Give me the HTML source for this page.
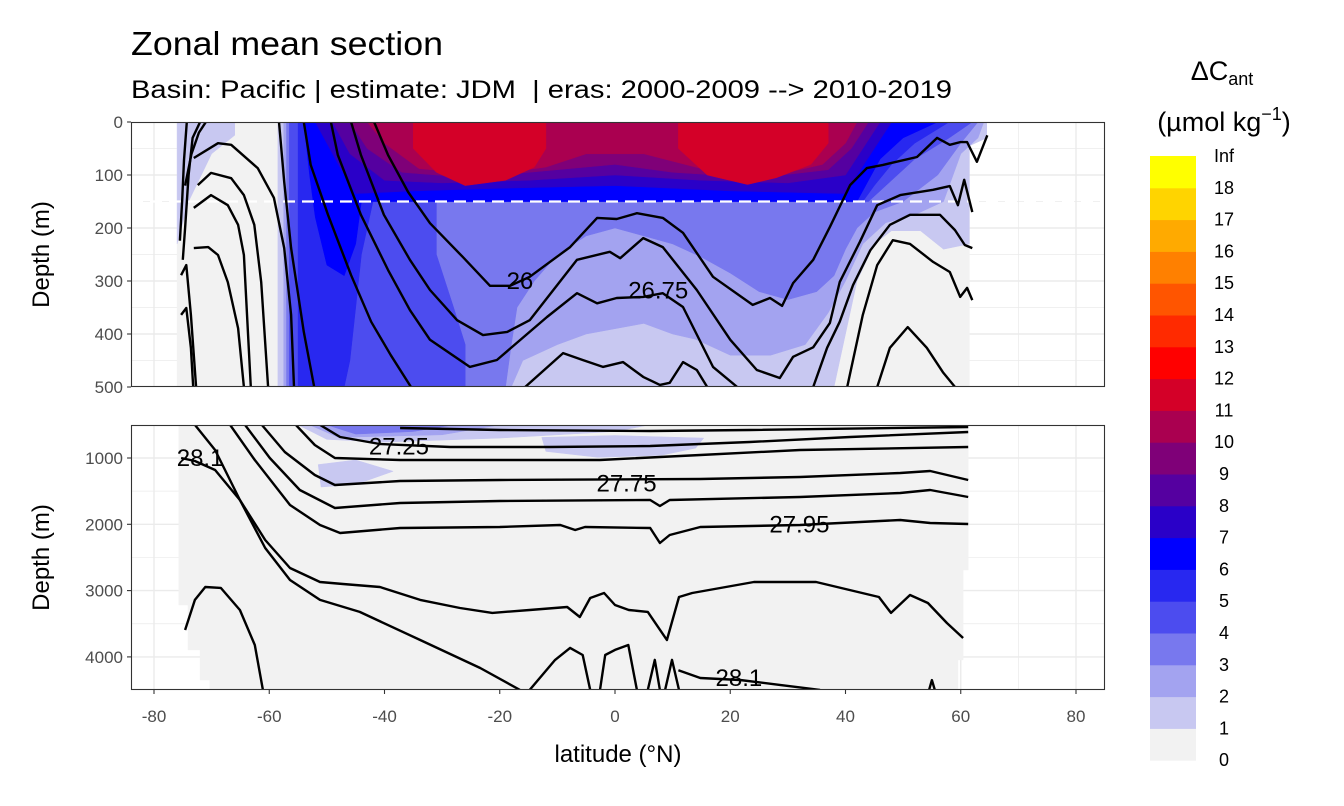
<!DOCTYPE html>
<html><head><meta charset="utf-8">
<style>
html,body{margin:0;padding:0;background:#fff;}
svg{display:block;font-family:"Liberation Sans",Arial,sans-serif;}
</style></head>
<body>
<svg id="chart" width="1344" height="806" viewBox="0 0 1344 806" xmlns="http://www.w3.org/2000/svg">
<text x="131" y="55" font-size="33" textLength="312" lengthAdjust="spacingAndGlyphs" fill="#000">Zonal mean section</text>
<text x="131" y="98" font-size="25" textLength="821" lengthAdjust="spacingAndGlyphs" fill="#000" xml:space="preserve">Basin: Pacific | estimate: JDM  | eras: 2000-2009 --&gt; 2010-2019</text>
<g id="topPanel"></g>
<g id="botPanel"></g>
<g id="axes"></g>
<g id="legend"></g>
</svg>
<script>
// ---------- data ----------
const palette = ["#f2f2f2","#c8c8f1","#a3a3f0","#7878ee","#4c4cef","#2828f0","#0000ff","#2a00c8","#5500a0","#7f0078","#aa0050","#d40028","#ff0000","#ff2a00","#ff5500","#ff8000","#ffaa00","#ffd400","#ffff00"];
const legendLabels = ["0","1","2","3","4","5","6","7","8","9","10","11","12","13","14","15","16","17","18","Inf"];
const xTicks = [-80,-60,-40,-20,0,20,40,60,80];
const topYTicks = [0,100,200,300,400,500];
const botYTicks = [1000,2000,3000,4000];

// filled regions (level index, [lat, depth] vertices)
const topFills = [
 [0, [[-76,0],[64.5,0],[64.5,30],[61.5,45],[61.5,500],[-76,500]]],
 [1, [[-76,0],[-66,0],[-66,25],[-70,60],[-74,150],[-76,230]]],
 [1, [[-58.5,0],[64.5,0],[64.5,30],[61.5,45],[61.5,230],[57,240],[53,205],[48,205],[45,230],[42,300],[40,400],[38,500],[-58.5,500]]],
 [2, [[-57.5,0],[64,0],[63,30],[60,60],[57,150],[52,175],[47,190],[43,230],[40,300],[37,360],[33,420],[27,440],[20,440],[14,410],[10,400],[5,380],[0,390],[-5,400],[-10,420],[-16,450],[-18,500],[-57.5,500]]],
 [3, [[-57,0],[63,0],[60,40],[56,100],[50,150],[45,170],[42,200],[40,240],[38,290],[35,320],[30,335],[25,320],[20,285],[15,255],[10,230],[5,215],[0,200],[-5,215],[-10,250],[-14,300],[-17,350],[-18,420],[-19,500],[-57,500]]],
 [4, [[-56.5,0],[62,0],[58,30],[52,70],[48,110],[44,150],[-31,150],[-31,250],[-28,350],[-26,420],[-26,500],[-56.5,500]]],
 [5, [[-55,0],[58,0],[52,40],[48,80],[45,120],[43,150],[-42,150],[-44,250],[-45,350],[-46,450],[-47,500],[-55,500]]],
 [6, [[-54,0],[56,0],[50,30],[46,70],[44,110],[42,150],[-10,150],[-30,150],[-44,150],[-45,230],[-47,290],[-50,270],[-52,180],[-53,100]]],
 [7, [[-52,0],[48,0],[45,50],[42,100],[40,135],[20,130],[0,120],[-20,125],[-35,130],[-45,135],[-48,80]]],
 [8, [[-49,0],[46,0],[43,50],[40,100],[30,115],[15,110],[0,100],[-15,110],[-30,115],[-40,110],[-46,60]]],
 [9, [[-46,0],[44,0],[41,50],[37,90],[25,105],[10,95],[0,80],[-10,90],[-25,105],[-37,95],[-43,50]]],
 [10,[[-43,0],[42,0],[40,40],[36,80],[28,100],[15,88],[5,60],[-5,60],[-12,85],[-22,100],[-34,88],[-40,40]]],
 [11,[[-35,0],[-12,0],[-12,50],[-14,85],[-19,110],[-26,120],[-31,95],[-35,50]]],
 [11,[[11,0],[37,0],[37,40],[34,80],[28,105],[23,118],[16,100],[11,50]]]
];
const botFills = [
 [0, [[-75.7,500],[61.3,500],[61.3,2690],[60.4,2690],[60.4,4046],[59.5,4046],[59.5,4500],[-70.3,4500],[-70.3,4348],[-72,4348],[-72,3895],[-74.1,3895],[-74.1,3217],[-75.7,3217]]],
 [1, [[-55,500],[6,500],[0,600],[-20,700],[-40,760],[-50,720]]],
 [1, [[-12.7,690],[0,660],[15.4,700],[14,850],[8,960],[-3,990],[-12,900]]],
 [1, [[-51.5,1100],[-45,1030],[-38.5,1200],[-45,1400],[-51,1437]]],
 [2, [[-53,500],[-20,500],[-30,650],[-48,690]]],
 [3, [[-50,500],[-28,500],[-35,600],[-45,640]]]
];

// isopycnal lines, [lat, depth]
const topLines = [
 [[-58.3,0],[-57.4,113],[-56.2,238],[-54,396],[-52.2,500]],
 [[-54,0],[-52.8,81],[-49.8,175],[-45.8,289],[-42.3,377],[-38.9,440],[-35.4,500]],
 [[-49.3,0],[-48.1,62],[-44.1,175],[-39.4,279],[-35.6,355],[-32.1,411],[-25.2,462],[-20.5,449],[-11.8,368],[-6.6,323],[-3.1,342],[0.3,332],[4.9,330],[8.3,323],[11.8,349],[17,462],[21.2,500]],
 [[-45.8,0],[-44.1,62],[-40.1,175],[-35.6,260],[-32.1,317],[-27.4,374],[-22.9,402],[-18.7,396],[-14.8,374],[-6.6,260],[-0.9,245],[0.9,257],[4.9,219],[8.3,236],[14.2,317],[20,411],[24.6,468],[28.6,483],[30.9,443],[34.4,425],[37.3,379],[39,302],[42.5,226],[45.5,157],[49.5,138],[55.2,128],[58.1,121],[59.5,157],[60.6,109],[62,170]],
 [[-41.8,0],[-39.4,62],[-35.9,132],[-32.1,191],[-26.4,255],[-21.7,309],[-18.2,309],[-14.8,292],[-7.8,236],[-3.1,181],[0.3,183],[3.8,172],[8.3,181],[11.8,209],[17,292],[23.9,345],[26.9,332],[29,347],[30.9,304],[34.4,260],[37.3,198],[40.8,119],[43.7,87],[46.5,81],[52.4,66],[55.9,30],[58.1,43],[59.9,38],[61.1,38],[62.8,75],[64.6,25]],
 [[-16,504],[-9,436],[-5.6,449],[-2.1,462],[1.4,453],[4.9,481],[7.8,496],[9.5,492],[11.8,453],[14.2,468],[16,500]],
 [[34.4,500],[36.8,426],[39,377],[41.3,308],[44.3,242],[47.7,194],[51.2,175],[56.4,175],[59,204],[60.7,232],[62,238]],
 [[40.3,500],[43,364],[45.5,270],[48.2,223],[51.2,230],[55.2,264],[58.1,283],[59.9,330],[61.1,313],[62,336]],
 [[45.5,500],[47.7,426],[50.8,387],[54.1,426],[56.9,472],[59,500]],
 [[-73.1,68],[-68.9,40],[-66.6,43],[-62,87],[-59.2,143],[-57.4,238],[-56.2,364],[-55.7,500]],
 [[-72.4,119],[-70.1,96],[-66.6,106],[-64.4,138],[-62.6,194],[-61.4,302],[-60.2,500]],
 [[-73.1,162],[-70.1,138],[-67.2,157],[-65.4,194],[-64.4,251],[-63.2,500]],
 [[-73.1,238],[-70.6,236],[-68.9,251],[-67.2,302],[-65.4,389],[-64.4,500]],
 [[-75.3,289],[-74.4,270],[-73.6,364],[-72.7,500]],
 [[-75.3,364],[-74.4,351],[-73.6,426],[-73.2,500]],
 [[-75.5,224],[-75.1,147],[-74.8,72],[-74.3,0]],
 [[-75,260],[-74.6,200],[-74,100],[-73.3,30],[-72,0]],
 [[-74.6,120],[-73.5,60],[-72.2,20],[-71,0]]
];
const botLines = [
 [[-75.3,1000],[-72.9,1045],[-69.4,1181],[-65.1,1633],[-60.7,2237],[-56.4,2659],[-51.2,2870],[-47.2,2900],[-40.8,2945],[-33.8,3141],[-26.9,3262],[-21.3,3337],[-14.8,3292],[-8.3,3247],[-6.1,3398],[-4.3,3111],[-1.9,3036],[0,3217],[2.4,3292],[5.7,3322],[9,3745],[11.1,3096],[13.4,3036],[24.1,2870],[34.9,2870],[45.8,3096],[47.9,3337],[51.2,3066],[54.3,3187],[57.6,3488],[60.4,3715]],
 [[-72.9,500],[-69.4,879],[-65.1,1633],[-60.7,2357],[-56.4,2840],[-51.2,3141],[-44.3,3322],[-33.8,3745],[-23.4,4167],[-16.5,4498]],
 [[-66.8,500],[-62.5,1030],[-56.4,1709],[-51.2,2010],[-47.7,2131],[-37.3,2056],[-20,2040],[-9.5,2010],[-6.9,2086],[-5.2,2040],[6.1,2056],[7.8,2282],[9.5,2161],[14.8,2040],[32.1,2010],[49.5,1935],[54.7,1980],[61.3,1995]],
 [[-64.2,500],[-59.9,1000],[-54.7,1483],[-48.6,1754],[-37.3,1679],[-20,1648],[6.1,1633],[7.8,1724],[9.5,1633],[32.1,1588],[49.5,1528],[54.7,1483],[61.3,1588]],
 [[-61.3,500],[-57.3,910],[-52.1,1256],[-48.6,1407],[-37.3,1347],[-20,1332],[14.8,1317],[32.1,1287],[49.5,1226],[54.7,1196],[61.3,1332]],
 [[-55.4,500],[-52.1,804],[-48.6,1000],[-37.3,1030],[-2.6,1030],[14.8,955],[32.1,879],[61.3,834]],
 [[-51.2,500],[-47.7,683],[-40.8,789],[-28.6,834],[-11.3,834],[6.1,819],[23.4,759],[40.8,683],[61.3,608]],
 [[-37.3,548],[-20,578],[6.1,593],[23.4,578],[61.3,532]],
 [[-74.6,3594],[-72.9,3141],[-71.1,2945],[-68.4,2960],[-65.1,3292],[-62.5,3820],[-61.1,4498]],
 [[11,4200],[14.8,4318],[21.7,4348],[28.6,4423],[35.6,4498]],
 [[-14.8,4498],[-10.4,4046],[-7.8,3865],[-5.6,3971],[-4.3,4498]],
 [[-2.6,4498],[-1.7,3971],[0,3895],[2.3,3820],[3.8,4498]],
 [[5.7,4498],[6.9,4046],[7.8,4498]],
 [[8.7,4498],[9.9,4046],[11.1,4498]],
 [[54.5,4498],[55,4350],[55.5,4498]]
];
const topLabels = [["26",-16.5,300],["26.75",7.5,318]];
const botLabels = [["28.1",-72,1000],["27.25",-37.5,830],["27.75",2,1385],["27.95",32,2000],["28.1",21.5,4320]];

// ---------- scales ----------
const PX0 = 131, PX1 = 1105, TOP0 = 122, TOP1 = 387, BOT0 = 425, BOT1 = 690;
const xs = lat => 615 + lat * 5.7625;
const yTop = d => TOP0 + d * 0.53;
const yBot = d => 458 + (d - 1000) * 0.0663;
const NS = "http://www.w3.org/2000/svg";
function mk(tag, attrs, parent) {
  const e = document.createElementNS(NS, tag);
  for (const k in attrs) e.setAttribute(k, attrs[k]);
  parent.appendChild(e);
  return e;
}
const svg = document.getElementById("chart");
const defs = mk("defs", {}, svg);
const cpT = mk("clipPath", {id: "clipTop"}, defs);
mk("rect", {x: PX0, y: TOP0, width: PX1 - PX0, height: TOP1 - TOP0}, cpT);
const cpB = mk("clipPath", {id: "clipBot"}, defs);
mk("rect", {x: PX0, y: BOT0, width: PX1 - PX0, height: BOT1 - BOT0}, cpB);

function drawPanel(g, y0, y1, ys, yMajor, yMinor, fills, lines, labels, clipId, dashed) {
  g.setAttribute("clip-path", "url(#" + clipId + ")");
  const bg = mk("rect", {x: PX0, y: y0, width: PX1 - PX0, height: y1 - y0, fill: "#fff"}, g);
  
  
  for (let lat = -90; lat <= 90; lat += 10) {
    const major = lat % 20 === 0;
    const gl = mk("line", {x1: xs(lat), x2: xs(lat), y1: y0, y2: y1, stroke: "#ebebeb", "stroke-width": major ? 1.4 : 0.7}, g);
    
    
  }
  yMajor.concat(yMinor).forEach((d, i) => {
    const gl = mk("line", {x1: PX0, x2: PX1, y1: ys(d), y2: ys(d), stroke: "#ebebeb", "stroke-width": i < yMajor.length ? 1.4 : 0.7}, g);
    
    
  });
  fills.forEach(f => {
    const pts = f[1].map(p => xs(p[0]).toFixed(1) + "," + ys(p[1]).toFixed(1)).join(" ");
    const poly = mk("polygon", {points: pts, fill: palette[f[0]], stroke: palette[f[0]], "stroke-width": 0.5, "stroke-linejoin": "round"}, g);
    
    
  });
  if (dashed) {
    const dl = mk("line", {x1: PX0, x2: PX1, y1: ys(150), y2: ys(150), stroke: "#fff", "stroke-width": 2.2, "stroke-dasharray": "12 7"}, g);
    
    
  }
  lines.forEach(l => {
    const pts = l.map(p => xs(p[0]).toFixed(1) + "," + ys(p[1]).toFixed(1)).join(" ");
    const pl = mk("polyline", {points: pts, fill: "none", stroke: "#000", "stroke-width": 2.4, "stroke-linejoin": "round"}, g);
    
    
  });
  labels.forEach(lb => {
    const t = mk("text", {x: xs(lb[1]), y: ys(lb[2]) + 8, "font-size": 24, "text-anchor": "middle", fill: "#000"}, g);
    t.textContent = lb[0];
    
    
  });
}
drawPanel(document.getElementById("topPanel"), TOP0, TOP1, yTop, topYTicks, [50,150,250,350,450], topFills, topLines, topLabels, "clipTop", true);
drawPanel(document.getElementById("botPanel"), BOT0, BOT1, yBot, botYTicks, [1500,2500,3500,4500], botFills, botLines, botLabels, "clipBot", false);

// ---------- axes ----------
const ax = document.getElementById("axes");
[[TOP0, TOP1], [BOT0, BOT1]].forEach(p => {
  const r = mk("rect", {x: PX0 + 0.5, y: p[0] + 0.5, width: PX1 - PX0 - 1, height: p[1] - p[0] - 1, fill: "none", stroke: "#333", "stroke-width": 1.1}, ax);
  
  
});
function yAxis(ticks, ys) {
  ticks.forEach(d => {
    const tk = mk("line", {x1: PX0 - 4, x2: PX0, y1: ys(d), y2: ys(d), stroke: "#333", "stroke-width": 1.1}, ax);
    
    
    const t = mk("text", {x: PX0 - 8, y: ys(d) + 6, "font-size": 17, "text-anchor": "end", fill: "#4d4d4d"}, ax);
    t.textContent = d;
    
    
  });
}
yAxis(topYTicks, yTop);
yAxis(botYTicks, yBot);
xTicks.forEach(v => {
  const tk = mk("line", {x1: xs(v), x2: xs(v), y1: BOT1, y2: BOT1 + 4, stroke: "#333", "stroke-width": 1.1}, ax);
  
  
  const t = mk("text", {x: xs(v), y: 722, "font-size": 17, "text-anchor": "middle", fill: "#4d4d4d"}, ax);
  t.textContent = v;
  
  
});
const xt = mk("text", {x: 618, y: 762, "font-size": 24, "text-anchor": "middle", fill: "#000"}, ax);
xt.textContent = "latitude (°N)";


[(TOP0 + TOP1) / 2, (BOT0 + BOT1) / 2].forEach(cy => {
  const t = mk("text", {x: 0, y: 0, "font-size": 24, "text-anchor": "middle", fill: "#000", transform: "translate(49," + cy + ") rotate(-90)"}, ax);
  t.textContent = "Depth (m)";
  
  
});

// ---------- legend ----------
const lg = document.getElementById("legend");
const LX = 1150, LW = 46, LTOP = 156, KEY = 31.8;
const t1 = mk("text", {x: 1222, y: 80, "font-size": 27, "text-anchor": "middle", fill: "#000"}, lg);
t1.innerHTML = 'ΔC<tspan font-size="18" dy="5">ant</tspan>';


const t2 = mk("text", {x: 1224, y: 131, "font-size": 27, "text-anchor": "middle", fill: "#000"}, lg);
t2.innerHTML = '(µmol kg<tspan font-size="18" dy="-11">−1</tspan><tspan dy="11">)</tspan>';


palette.forEach((c, i) => {
  const y = LTOP + (palette.length - 1 - i) * KEY;
  const r = mk("rect", {x: LX, y: y, width: LW, height: KEY + 0.5, fill: c}, lg);
  
  
});
legendLabels.forEach((s, i) => {
  const y = LTOP + (legendLabels.length - 1 - i) * KEY;
  const t = mk("text", {x: 1224, y: y + 6, "font-size": 18, "text-anchor": "middle", fill: "#000"}, lg);
  t.textContent = s;
  
  
});
</script>
</body></html>
